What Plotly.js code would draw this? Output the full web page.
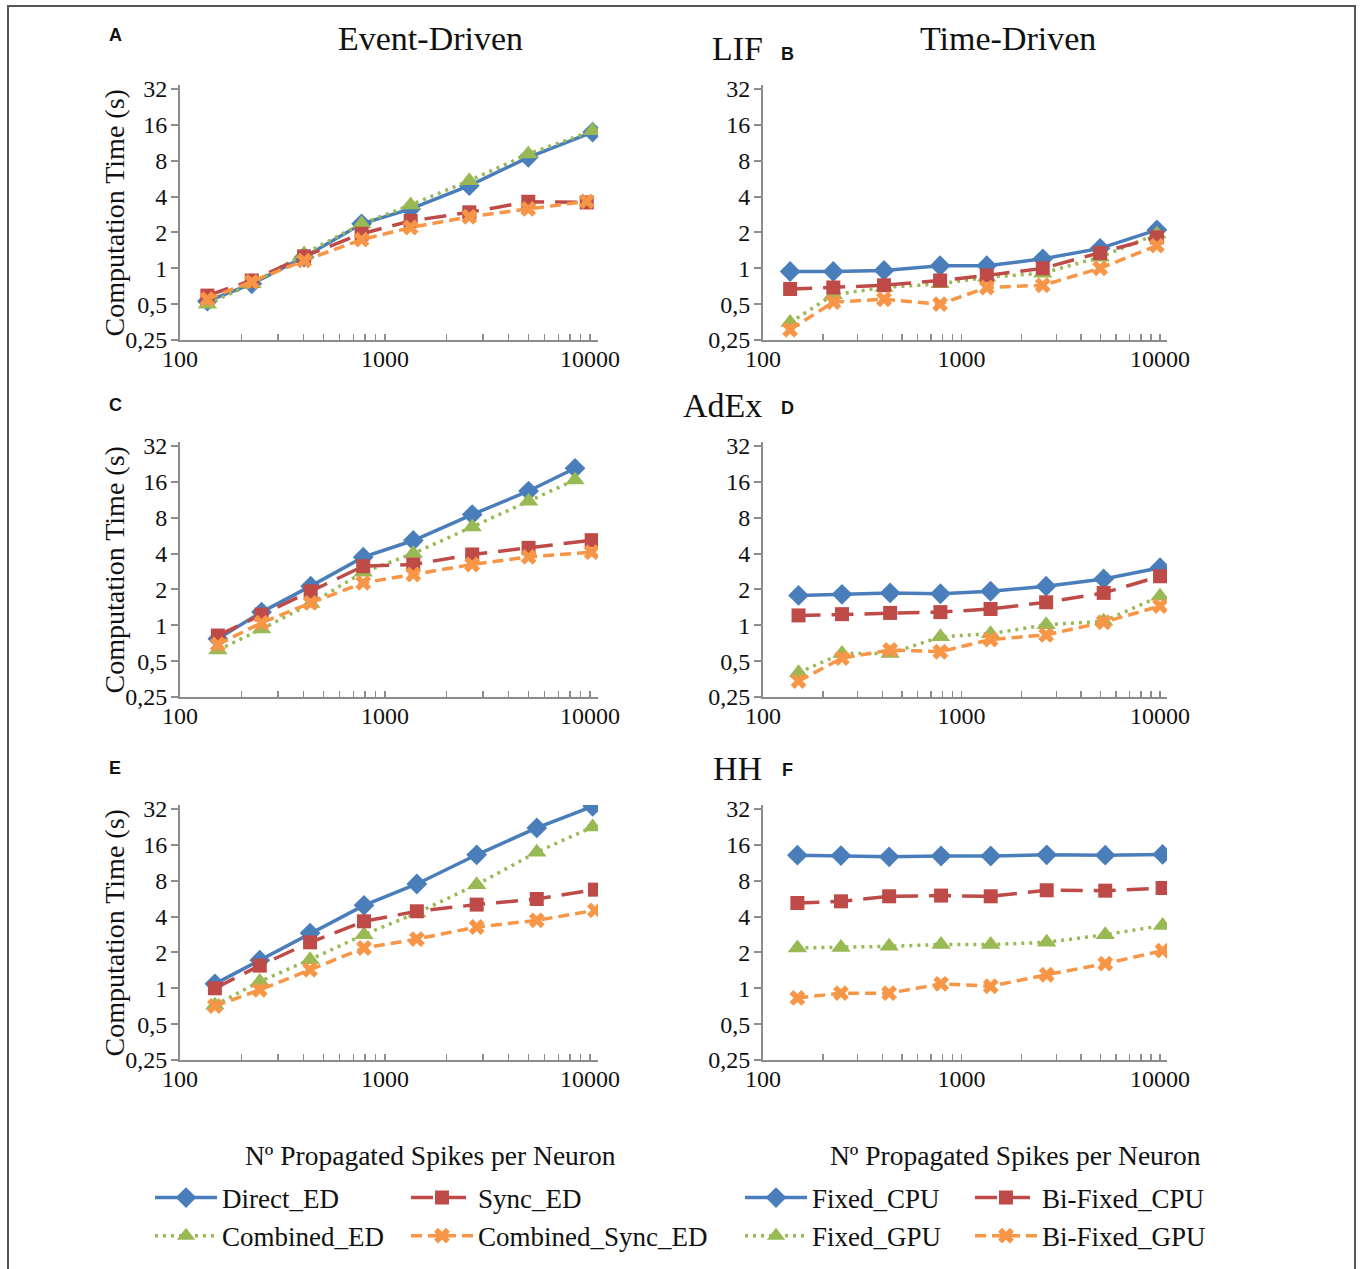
<!DOCTYPE html>
<html><head><meta charset="utf-8">
<script src="https://cdn.plot.ly/plotly-3.0.1.min.js"></script>
<style>body{margin:0;background:#fff}#chart{width:1360px;height:1269px}</style>
</head><body><div id="chart"></div>
<script>
// ---------- tick labels ----------
const xTickVals = [100,200,300,400,500,600,700,800,900,1000,2000,3000,4000,5000,6000,7000,8000,9000,10000];
const xTickText = ['100','','','','','','','','','1000','','','','','','','','','10000'];
const yTickVals = [0.25,0.5,1,2,4,8,16,32];
const yTickText = ['0,25','0,5','1','2','4','8','16','32'];

// ---------- Panel A : LIF, Event-Driven ----------
const xA      = [136,224,403,769,1334,2577,5000,10300];
const xA_sync = [136,224,403,769,1334,2577,5000,9640];
const A_direct   = [0.53,0.74,1.24,2.36,3.15,4.94,8.54,13.9];
const A_combined = [0.50,0.74,1.32,2.36,3.40,5.44,9.1,14.3];
const A_sync     = [0.59,0.79,1.26,1.95,2.5,2.95,3.62,3.57];
const A_combSync = [0.55,0.77,1.16,1.74,2.2,2.71,3.15,3.65];

// ---------- Panel B : LIF, Time-Driven ----------
const xB = [137,226,407,780,1340,2566,4990,9640];
const B_fixedCPU   = [0.94,0.94,0.96,1.05,1.05,1.2,1.47,2.1];
const B_biFixedCPU = [0.67,0.69,0.72,0.79,0.87,1.0,1.34,1.82];
const B_fixedGPU   = [0.35,0.6,0.69,0.74,0.84,0.91,1.24,1.94];
const B_biFixedGPU = [0.305,0.52,0.55,0.5,0.69,0.72,1.0,1.55];

// ---------- Panel C : AdEx, Event-Driven ----------
const xC      = [153,250,434,783,1374,2663,5015,8450];
const xC_sync = [153,250,434,783,1374,2663,5015,10190];
const C_direct   = [0.77,1.29,2.13,3.73,5.15,8.5,13.4,20.8];
const C_combined = [0.62,0.93,1.52,2.79,4.0,6.67,11.0,16.6];
const C_sync     = [0.82,1.23,1.93,3.13,3.24,3.93,4.47,5.18];
const C_combSync = [0.69,1.05,1.54,2.27,2.67,3.24,3.75,4.11];

// ---------- Panel D : AdEx, Time-Driven ----------
const xD = [151,250,437,783,1400,2668,5200,10000];
const D_fixedCPU   = [1.78,1.82,1.87,1.84,1.93,2.13,2.45,3.04];
const D_biFixedCPU = [1.21,1.24,1.27,1.29,1.37,1.56,1.87,2.58];
const D_fixedGPU   = [0.40,0.58,0.58,0.80,0.85,1.01,1.08,1.75];
const D_biFixedGPU = [0.34,0.53,0.62,0.60,0.76,0.83,1.06,1.45];

// ---------- Panel E : HH, Event-Driven ----------
const xE      = [148,245,431,790,1430,2800,5500,10300];
const xE_sync = [148,245,431,790,1430,2800,5500,10570];
const E_direct   = [1.09,1.72,2.91,4.97,7.51,13.2,22.2,33.7];
const E_combined = [0.72,1.14,1.74,2.82,4.29,7.41,13.9,22.6];
const E_sync     = [1.0,1.55,2.43,3.65,4.43,5.04,5.62,6.73];
const E_combSync = [0.71,0.97,1.43,2.18,2.59,3.27,3.72,4.51];

// ---------- Panel F : HH, Time-Driven ----------
const xF = [149,247,432,789,1403,2686,5296,10300];
const F_fixedCPU   = [13.1,13.0,12.7,12.9,12.9,13.2,13.1,13.3];
const F_biFixedCPU = [5.2,5.37,5.92,6.0,5.92,6.65,6.6,6.95];
const F_fixedGPU   = [2.18,2.2,2.25,2.33,2.33,2.43,2.82,3.36];
const F_biFixedGPU = [0.83,0.91,0.91,1.09,1.04,1.30,1.61,2.07];

// ---------- styles ----------
const SERIF = 'Liberation Serif';
const SANS = 'Liberation Sans';
const styles = {
  blue:   {color:'#4A7EBB', dash:'solid',      symbol:'diamond',     size:16},
  red:    {color:'#BE4B48', dash:'22px,11px',  symbol:'square',      size:14},
  green:  {color:'#98B954', dash:'3px,5px',    symbol:'triangle-up', size:17},
  orange: {color:'#F79646', dash:'11px,6px',   symbol:'x',           size:14}
};

function tr(x, y, name, st, ax, legendId, show) {
  const s = styles[st];
  return {
    type:'scatter', mode:'lines+markers', x:x, y:y, name:name,
    xaxis:'x'+(ax===1?'':ax), yaxis:'y'+(ax===1?'':ax),
    line:{color:s.color, width:3.5, dash:s.dash},
    marker:{symbol:s.symbol, size:s.size, color:s.color, line:{width:0}},
    legend:legendId, showlegend:show
  };
}

// legend columns: legend = Direct/Combined, legend2 = Sync/Combined_Sync,
// legend3 = Fixed_CPU/Fixed_GPU, legend4 = Bi-Fixed_CPU/Bi-Fixed_GPU
const data = [
  tr(xA, A_direct, 'Direct_ED', 'blue', 1, 'legend', true),
  tr(xA, A_combined, 'Combined_ED', 'green', 1, 'legend', true),
  tr(xA_sync, A_sync, 'Sync_ED', 'red', 1, 'legend2', true),
  tr(xA_sync, A_combSync, 'Combined_Sync_ED', 'orange', 1, 'legend2', true),

  tr(xB, B_fixedCPU, 'Fixed_CPU', 'blue', 2, 'legend3', true),
  tr(xB, B_fixedGPU, 'Fixed_GPU', 'green', 2, 'legend3', true),
  tr(xB, B_biFixedCPU, 'Bi-Fixed_CPU', 'red', 2, 'legend4', true),
  tr(xB, B_biFixedGPU, 'Bi-Fixed_GPU', 'orange', 2, 'legend4', true),

  tr(xC, C_direct, 'Direct_ED', 'blue', 3, 'legend', false),
  tr(xC, C_combined, 'Combined_ED', 'green', 3, 'legend', false),
  tr(xC_sync, C_sync, 'Sync_ED', 'red', 3, 'legend2', false),
  tr(xC_sync, C_combSync, 'Combined_Sync_ED', 'orange', 3, 'legend2', false),

  tr(xD, D_fixedCPU, 'Fixed_CPU', 'blue', 4, 'legend3', false),
  tr(xD, D_fixedGPU, 'Fixed_GPU', 'green', 4, 'legend3', false),
  tr(xD, D_biFixedCPU, 'Bi-Fixed_CPU', 'red', 4, 'legend4', false),
  tr(xD, D_biFixedGPU, 'Bi-Fixed_GPU', 'orange', 4, 'legend4', false),

  tr(xE, E_direct, 'Direct_ED', 'blue', 5, 'legend', false),
  tr(xE, E_combined, 'Combined_ED', 'green', 5, 'legend', false),
  tr(xE_sync, E_sync, 'Sync_ED', 'red', 5, 'legend2', false),
  tr(xE_sync, E_combSync, 'Combined_Sync_ED', 'orange', 5, 'legend2', false),

  tr(xF, F_fixedCPU, 'Fixed_CPU', 'blue', 6, 'legend3', false),
  tr(xF, F_fixedGPU, 'Fixed_GPU', 'green', 6, 'legend3', false),
  tr(xF, F_biFixedCPU, 'Bi-Fixed_CPU', 'red', 6, 'legend4', false),
  tr(xF, F_biFixedGPU, 'Bi-Fixed_GPU', 'orange', 6, 'legend4', false)
];

const W = 1360, H = 1269;
const px = v => v / W;
const py = v => 1 - v / H;
const yTop = Math.log10(32) + (4/35.9)*Math.log10(2);

function xAxis(left, right, log10Right, anchor) {
  return {
    type:'log', domain:[px(left), px(right)], range:[2, log10Right], anchor:anchor,
    tickvals:xTickVals, ticktext:xTickText, ticks:'inside', ticklen:6, tickwidth:1.5, tickcolor:'#8c8c8c',
    showline:true, linecolor:'#8c8c8c', linewidth:2, showgrid:false, zeroline:false,
    ticklabelstandoff:-4,
    tickfont:{family:SERIF, size:24, color:'#111'}
  };
}
function yAxis(top, bottom, anchor) {
  return {
    type:'log', domain:[py(bottom), py(top)], range:[Math.log10(0.25), yTop], anchor:anchor,
    tickvals:yTickVals, ticktext:yTickText, ticks:'outside', ticklen:7, tickwidth:2, tickcolor:'#8c8c8c',
    showline:true, linecolor:'#8c8c8c', linewidth:2, showgrid:false, zeroline:false,
    ticklabelstandoff:-1,
    tickfont:{family:SERIF, size:24, color:'#111'}
  };
}

const legendBase = {
  orientation:'v', xanchor:'left', yanchor:'middle', y:py(1217),
  itemwidth:62, bgcolor:'rgba(0,0,0,0)', font:{family:SERIF, size:27, color:'#111'},
  traceorder:'normal', tracegroupgap:0, itemclick:false
};

const ann = [
  {text:'Event-Driven', x:px(430), y:py(38), font:{family:SERIF, size:34}},
  {text:'Time-Driven', x:px(1008), y:py(38), font:{family:SERIF, size:34}},
  {text:'LIF', x:px(737), y:py(48), font:{family:SERIF, size:34}},
  {text:'AdEx', x:px(722), y:py(405), font:{family:SERIF, size:34}},
  {text:'HH', x:px(737), y:py(768), font:{family:SERIF, size:34}},
  {text:'<b>A</b>', x:px(115), y:py(35), font:{family:SANS, size:18}},
  {text:'<b>B</b>', x:px(787), y:py(54), font:{family:SANS, size:18}},
  {text:'<b>C</b>', x:px(115), y:py(405), font:{family:SANS, size:18}},
  {text:'<b>D</b>', x:px(787), y:py(408), font:{family:SANS, size:18}},
  {text:'<b>E</b>', x:px(115), y:py(768), font:{family:SANS, size:18}},
  {text:'<b>F</b>', x:px(787), y:py(770), font:{family:SANS, size:18}},
  {text:'Computation Time (s)', x:px(114), y:py(212.5), textangle:-90, font:{family:SERIF, size:28}},
  {text:'Computation Time (s)', x:px(114), y:py(569.5), textangle:-90, font:{family:SERIF, size:28}},
  {text:'Computation Time (s)', x:px(114), y:py(932.5), textangle:-90, font:{family:SERIF, size:28}},
  {text:'Nº Propagated Spikes per Neuron', x:px(430), y:py(1155), font:{family:SERIF, size:27.5}},
  {text:'Nº Propagated Spikes per Neuron', x:px(1015), y:py(1155), font:{family:SERIF, size:27.5}}
].map(a => Object.assign({xref:'paper', yref:'paper', showarrow:false, xanchor:'center', yanchor:'middle'}, a,
      {font:Object.assign({color:'#111'}, a.font)}));

const layout = {
  width:W, height:H, margin:{l:0,r:0,t:0,b:0},
  paper_bgcolor:'#fff', plot_bgcolor:'#fff', showlegend:true,
  font:{family:SERIF, color:'#111'},
  xaxis:  xAxis(180, 598, 4.039, 'y'),
  yaxis:  yAxis(85, 340, 'x'),
  xaxis2: xAxis(763, 1167, 4.035, 'y2'),
  yaxis2: yAxis(85, 340, 'x2'),
  xaxis3: xAxis(180, 598, 4.039, 'y3'),
  yaxis3: yAxis(442, 697, 'x3'),
  xaxis4: xAxis(763, 1167, 4.035, 'y4'),
  yaxis4: yAxis(442, 697, 'x4'),
  xaxis5: xAxis(180, 598, 4.039, 'y5'),
  yaxis5: yAxis(805, 1060, 'x5'),
  xaxis6: xAxis(763, 1167, 4.035, 'y6'),
  yaxis6: yAxis(805, 1060, 'x6'),
  legend:  Object.assign({}, legendBase, {x:px(150)}),
  legend2: Object.assign({}, legendBase, {x:px(406)}),
  legend3: Object.assign({}, legendBase, {x:px(740)}),
  legend4: Object.assign({}, legendBase, {x:px(970)}),
  shapes:[
    {type:'rect', xref:'paper', yref:'paper', x0:px(8), x1:px(1355), y0:-0.02, y1:py(6),
     line:{color:'#555', width:2}, fillcolor:'rgba(0,0,0,0)'}
  ],
  annotations: ann
};

Plotly.newPlot('chart', data, layout, {staticPlot:true, displayModeBar:false});
</script>
</body></html>
